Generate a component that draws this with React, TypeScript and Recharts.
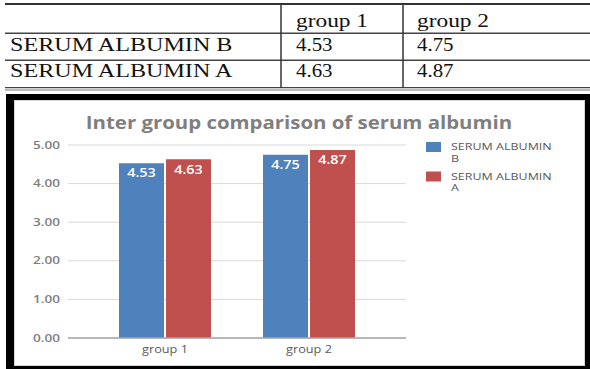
import React from 'react';
import { BarChart, Bar, CartesianGrid, XAxis, YAxis, Legend, LabelList } from 'recharts';

const groups = ['group 1', 'group 2'];
const seriesNames = ['SERUM ALBUMIN B', 'SERUM ALBUMIN A'];
const serumAlbuminB = [4.53, 4.75];
const serumAlbuminA = [4.63, 4.87];
const yTicks = [0, 1, 2, 3, 4, 5];
const chartTitle = 'Inter group comparison of serum albumin';

const chartData = groups.map((g, i) => ({
  group: g,
  b: serumAlbuminB[i],
  a: serumAlbuminA[i],
}));

const blue = '#4f81bd';
const red = '#c0504d';
const chartFont = '"Open Sans", sans-serif';
const tableFont = '"Liberation Serif", "Times New Roman", serif';

// the source image is stretched sideways, so text gets a horizontal scale
const Wide = ({ x, y, k, anchor = 'start', children, ...rest }: any) => (
  <text transform={`translate(${x},${y}) scale(${k},1)`} textAnchor={anchor} {...rest}>
    {children}
  </text>
);

const YTick = ({ x, y, payload }: any) => (
  <Wide x={x} y={y} k={1.36} anchor="end" dy="0.355em" fontSize={10} fontWeight={600}
    fill="#7f7f7f" fontFamily={chartFont}>
    {Number(payload.value).toFixed(2)}
  </Wide>
);

const XTick = ({ x, y, payload }: any) => (
  <Wide x={x} y={y} k={1.27} anchor="middle" dy="0.355em" fontSize={10}
    fill="#595959" fontFamily={chartFont}>
    {payload.value}
  </Wide>
);

const BarValue = ({ x, y, width, value }: any) => (
  <Wide x={x + width / 2} y={y + 10} k={1.2} anchor="middle" dy="0.355em" fontSize={12}
    fontWeight={600} fill="#fff" fontFamily={chartFont}>
    {Number(value).toFixed(2)}
  </Wide>
);

const LegendBox = ({ payload }: any) => {
  const items = [...(payload || [])].sort(
    (p: any, q: any) => seriesNames.indexOf(p.value) - seriesNames.indexOf(q.value));
  return (
    <svg width={150} height={64}>
      {items.map((entry: any, i: number) => {
        const name = String(entry.value);
        const cut = name.lastIndexOf(' ');
        return (
          <g key={name} transform={`translate(0,${i * 29.5})`}>
            <rect x={0} y={0} width={15} height={10} fill={entry.color} />
            <Wide x={25} y={8.3} k={1.42} fontSize={8.8} fill="#595959" fontFamily={chartFont}>
              {name.slice(0, cut)}
            </Wide>
            <Wide x={25} y={19.5} k={1.42} fontSize={8.8} fill="#595959" fontFamily={chartFont}>
              {name.slice(cut + 1)}
            </Wide>
          </g>
        );
      })}
    </svg>
  );
};

const tableRows = [
  { label: seriesNames[0], values: serumAlbuminB },
  { label: seriesNames[1], values: serumAlbuminA },
];
const colX = [10, 296, 417];
const rowBase = [26.5, 50.7, 77.3];

const TableAndTitle = () => (
  <svg width={590} height={369} style={{ position: 'absolute', left: 0, top: 0 }}>
    <line x1={5} x2={590} y1={4} y2={4} stroke="#333" strokeWidth={2} />
    <line x1={5} x2={590} y1={33.3} y2={33.3} stroke="#444" strokeWidth={1.4} />
    <line x1={5} x2={590} y1={60.3} y2={60.3} stroke="#444" strokeWidth={1.4} />
    <line x1={5} x2={590} y1={87.6} y2={87.6} stroke="#444" strokeWidth={1.3} />
    <line x1={5} x2={590} y1={90} y2={90} stroke="#777" strokeWidth={1} />
    <line x1={281} x2={281} y1={4} y2={88} stroke="#333" strokeWidth={1.5} />
    <line x1={403} x2={403} y1={4} y2={88} stroke="#333" strokeWidth={1.5} />
    {groups.map((g, i) => (
      <Wide key={g} x={colX[i + 1]} y={rowBase[0]} k={1.23} fontSize={19} fill="#111" fontFamily={tableFont}>
        {g}
      </Wide>
    ))}
    {tableRows.map((r, ri) => (
      <g key={r.label}>
        <Wide x={colX[0]} y={rowBase[ri + 1]} k={1.27} fontSize={19} fill="#111" fontFamily={tableFont}>
          {r.label}
        </Wide>
        {r.values.map((v, ci) => (
          <Wide key={ci} x={colX[ci + 1]} y={rowBase[ri + 1]} k={1.1} fontSize={19} fill="#111" fontFamily={tableFont}>
            {v.toFixed(2)}
          </Wide>
        ))}
      </g>
    ))}
    <Wide x={299} y={129} k={1.2} anchor="middle" fontSize={17} fontWeight={700} fill="#7f7f7f" fontFamily={chartFont}>
      {chartTitle}
    </Wide>
  </svg>
);

export default function App() {
  return (
    <div style={{ position: 'absolute', left: 0, top: 0, width: 590, height: 369, overflow: 'hidden', background: '#fff' }}>
      <div style={{
        position: 'absolute', left: 6, top: 94, width: 584, height: 275, boxSizing: 'border-box',
        borderStyle: 'solid', borderColor: '#000', borderWidth: '6px 5px 3px 8px', background: '#fff',
      }}>
        <div style={{ width: '100%', height: '100%', boxSizing: 'border-box', border: '1px solid #d6d6d6' }} />
      </div>
      <TableAndTitle />
      <div style={{ position: 'absolute', left: 0, top: 0 }}>
        <BarChart width={590} height={369} data={chartData} margin={{ top: 145, right: 184, bottom: 1, left: 8 }}
          barSize={45} barGap={2}>
          <CartesianGrid vertical={false} stroke="#d9d9d9" />
          <XAxis dataKey="group" height={30} padding={{ left: 25, right: 25 }} tickLine={false} tickSize={0}
            tickMargin={11} stroke="#a6a6a6" strokeWidth={1.5} tick={<XTick />} />
          <YAxis domain={[0, 5]} ticks={yTicks} width={60} axisLine={false} tickLine={false} tickSize={0}
            tickMargin={8} tick={<YTick />} />
          <Legend layout="horizontal" verticalAlign="middle" align="center" width={150} itemSorter={null}
            wrapperStyle={{ left: 426, top: 141.5 }} content={<LegendBox />} />
          <Bar dataKey="b" name={seriesNames[0]} fill={blue} isAnimationActive={false}>
            <LabelList dataKey="b" content={<BarValue />} />
          </Bar>
          <Bar dataKey="a" name={seriesNames[1]} fill={red} isAnimationActive={false}>
            <LabelList dataKey="a" content={<BarValue />} />
          </Bar>
        </BarChart>
      </div>
    </div>
  );
}
